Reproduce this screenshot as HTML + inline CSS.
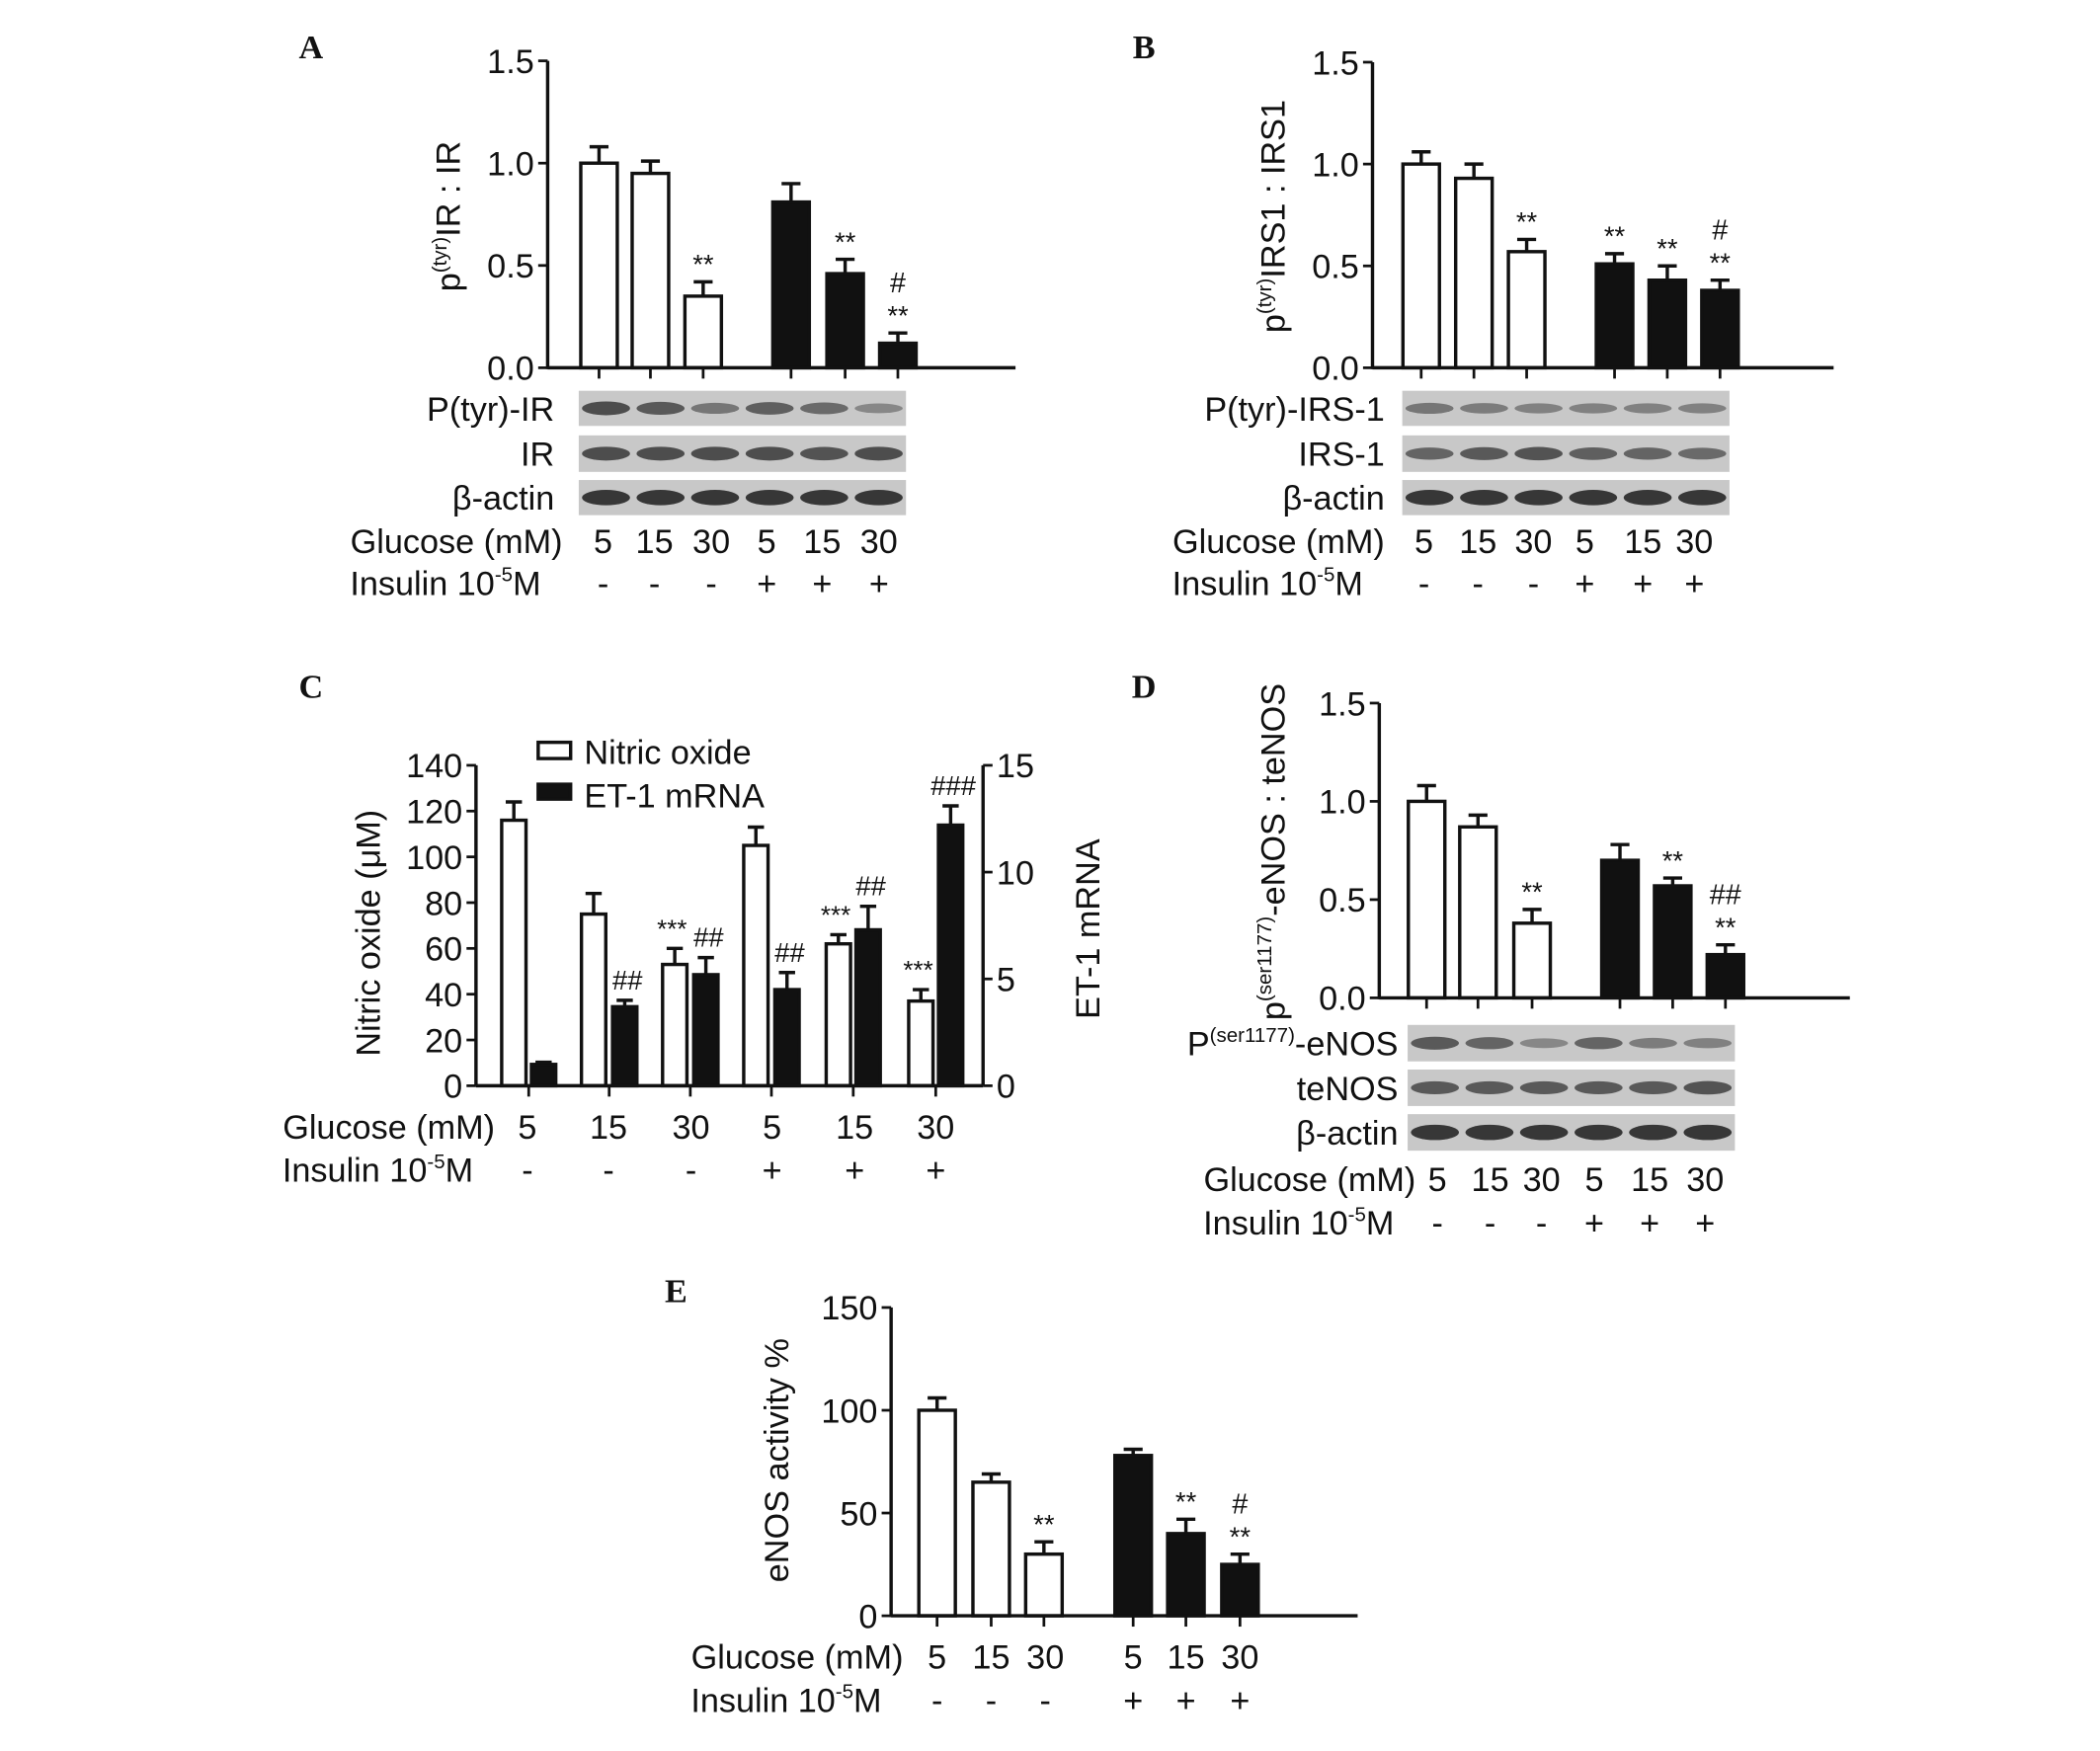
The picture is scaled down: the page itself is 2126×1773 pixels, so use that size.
<!DOCTYPE html>
<html><head><meta charset="utf-8"><style>
html,body{margin:0;padding:0;background:#fff;}
svg{display:block;}
text{font-family:"Liberation Sans",sans-serif;fill:#111;}
.pl{font-family:"Liberation Serif",serif;font-weight:bold;font-size:25px;}
</style></head><body>
<svg id="fig" width="2126" height="1773" viewBox="0 0 1553 1295" preserveAspectRatio="none" xmlns="http://www.w3.org/2000/svg"></svg>
<script>
// ---- data ----
const glucoseLabels = ["5","15","30","5","15","30"];
const insulinLabels = ["-","-","-","+","+","+"];
const aValues = [1.0,0.95,0.35,0.81,0.46,0.12];
const aErrors = [0.08,0.06,0.07,0.09,0.07,0.05];
const aAnnot = ["","","**","","**","#\n**"];
const bValues = [1.0,0.93,0.57,0.51,0.43,0.38];
const bErrors = [0.06,0.07,0.06,0.05,0.07,0.05];
const bAnnot = ["","","**","**","**","#\n**"];
const dValues = [1.0,0.87,0.38,0.70,0.57,0.22];
const dErrors = [0.08,0.06,0.07,0.08,0.04,0.05];
const dAnnot = ["","","**","","**","##\n**"];
const eValues = [100,65,30,78,40,25];
const eErrors = [6,4,6,3,7,5];
const eAnnot = ["","","**","","**","#\n**"];
const ratioTicks = [0,0.5,1.0,1.5];
const ratioTickLabels = ["0.0","0.5","1.0","1.5"];
const eTicks = [0,50,100,150];
const cNO = [116,75,53,105,62,37];
const cNOerr = [8,9,7,8,4,5];
const cNOannot = ["","","***","","***","***"];
const cET = [1.0,3.7,5.2,4.5,7.3,12.2];
const cETerr = [0.1,0.3,0.8,0.8,1.1,0.9];
const cETannot = ["","##","##","##","##","###"];
const cLeftTicks = [0,20,40,60,80,100,120,140];
const cRightTicks = [0,5,10,15];

const FS = 25;
const svg = document.getElementById('fig');
const NS = "http://www.w3.org/2000/svg";
function el(tag, attrs, parent){const e=document.createElementNS(NS,tag);for(const k in attrs)e.setAttribute(k,attrs[k]);(parent||svg).appendChild(e);return e;}
function txt(x,y,s,size,anchor,parent){const t=el('text',{x:x,y:y,'font-size':size,'text-anchor':anchor||'middle'},parent);t.textContent=s;return t;}

function panelLabel(x,y,s){const t=txt(x,y,s,25,'middle');t.setAttribute('class','pl');

}

function yScale(y0,yTop,max){return v=>y0-(y0-yTop)*v/max;}

function barChart(name,ax,x0End,y0,yTop,max,ticks,tickLabels,centers,vals,errs,annot,bw){
  const g=el('g',{});
  
  
  const ys=yScale(y0,yTop,max);
  vals.forEach((v,i)=>{
    const cx=centers[i],top=ys(v),black=i>=3;
    const r=el('rect',{x:cx-bw/2,y:top,width:bw,height:y0-top,fill:black?'#111':'#fff',stroke:'#111','stroke-width':2.5},g);
    
    
    const et=ys(v+errs[i]);
    el('line',{x1:cx,x2:cx,y1:top,y2:et,stroke:'#111','stroke-width':2.5},g);
    el('line',{x1:cx-7,x2:cx+7,y1:et,y2:et,stroke:'#111','stroke-width':2.5},g);
    el('line',{x1:cx,x2:cx,y1:y0,y2:y0+8,stroke:'#111','stroke-width':2},g);
    const lines=annot[i]?annot[i].split('\n'):[];
    lines.reverse().forEach((s,k)=>{txt(cx,et-6-k*24,s,s.startsWith('#')?21:20,'middle',g);});
  });
  el('line',{x1:ax,x2:ax,y1:yTop,y2:y0+1,stroke:'#111','stroke-width':2.5},g);
  el('line',{x1:ax,x2:x0End,y1:y0,y2:y0,stroke:'#111','stroke-width':2.5},g);
  ticks.forEach((t,i)=>{const y=ys(t);el('line',{x1:ax-7,x2:ax,y1:y,y2:y,stroke:'#111','stroke-width':2},g);
    txt(ax-10,y+9,tickLabels[i],FS,'end',g);});
  return g;
}
function ylab(x,y,parts,name){
  const t=el('text',{transform:`translate(${x},${y}) rotate(-90)`,'font-size':FS,'text-anchor':'middle'});
  
  
  parts.forEach(p=>{const s=el('tspan',p.sup?{'font-size':15,dy:-10}:{dy:p.after?10:0},t);s.textContent=p.t;});
}
function blots(name,x,w,rows,labelX,labels,intens){
  rows.forEach((r,i)=>{
    const g=el('g',{});
    
    
    el('rect',{x:x,y:r[0],width:w,height:r[1]-r[0],fill:'#c8c8c8'},g);
    const lw=w/6, mid=(r[0]+r[1])/2;
    intens[i].forEach((a,k)=>{el('ellipse',{cx:x+lw*(k+0.5),cy:mid,rx:lw*0.44,ry:3+3*a,fill:'#222','fill-opacity':0.25+0.7*a},g);});
    const lt=el('text',{x:labelX,y:mid+9,'font-size':FS,'text-anchor':'end'});
    labels[i].forEach(p=>{const s=el('tspan',p.sup?{'font-size':15,dy:-10}:{dy:p.after?10:0},lt);s.textContent=p.t;});
  });
}
function condRows(name,lx,gy,iy,xs){
  const g=el('g',{});
  
  
  txt(lx,gy,'Glucose (mM)',FS,'end',g);
  const t=el('text',{x:lx-16,y:iy,'font-size':FS,'text-anchor':'end'},g);
  let s=el('tspan',{},t);s.textContent='Insulin 10';
  s=el('tspan',{'font-size':15,dy:-10},t);s.textContent='-5';
  s=el('tspan',{dy:10},t);s.textContent='M';
  xs.forEach((x,i)=>{txt(x,gy,glucoseLabels[i],FS,'middle',g);txt(x,iy,insulinLabels[i],FS,'middle',g);});
}

// Panel A
panelLabel(230,43,'A');
barChart('panel-a',405,751,272,45,1.5,ratioTicks,ratioTickLabels,[443,481,520,585,625,664],aValues,aErrors,aAnnot,27);
ylab(340,160,[{t:'p'},{t:'(tyr)',sup:true},{t:'IR : IR',after:true}],'panel-a-y-axis-title');
blots('panel-a',428,242,[[289,315],[322,349],[355,381]],410,[[{t:'P(tyr)-IR'}],[{t:'IR'}],[{t:'β-actin'}]],[[.7,.6,.35,.55,.45,.2],[.7,.7,.7,.7,.65,.7],[.9,.9,.9,.9,.9,.9]]);
condRows('panel-a',416,409,440,[446,484,526,567,608,650]);

// Panel B
panelLabel(846,43,'B');
barChart('panel-b',1015,1356,272,46,1.5,ratioTicks,ratioTickLabels,[1051,1090,1129,1194,1233,1272],bValues,bErrors,bAnnot,27);
ylab(950,160,[{t:'p'},{t:'(tyr)',sup:true},{t:'IRS1 : IRS1',after:true}],'panel-b-y-axis-title');
blots('panel-b',1037,242,[[289,315],[322,349],[355,381]],1024,[[{t:'P(tyr)-IRS-1'}],[{t:'IRS-1'}],[{t:'β-actin'}]],[[.35,.3,.25,.25,.25,.25],[.5,.6,.65,.55,.5,.45],[.9,.9,.9,.9,.9,.9]]);
condRows('panel-b',1024,409,440,[1053,1093,1134,1172,1215,1253]);

// Panel C
panelLabel(230,516,'C');
(function(){
  const g=el('g',{});
  
  
  const y0=803,yT=566,ax=352,rx=727;
  const yl=yScale(y0,yT,140), yr=yScale(y0,yT,15);
  const wc=[380,439,499,559,620,681], bc=[402,462,522,582,642,703], bw=18;
  function bar(cx,v,e,ys,black,ann,idx,kind){
    const top=ys(v);
    const r=el('rect',{x:cx-bw/2,y:top,width:bw,height:y0-top,fill:black?'#111':'#fff',stroke:'#111','stroke-width':2.5},g);
    
    
    const et=ys(v+e);
    el('line',{x1:cx,x2:cx,y1:top,y2:et,stroke:'#111','stroke-width':2.5},g);
    el('line',{x1:cx-6,x2:cx+6,y1:et,y2:et,stroke:'#111','stroke-width':2.5},g);
    if(ann)txt(cx+(black?2:-2),et-8,ann,ann.startsWith('#')?20:19,'middle',g);
  }
  cNO.forEach((v,i)=>bar(wc[i],v,cNOerr[i],yl,false,cNOannot[i],i+1,'nitric-oxide'));
  cET.forEach((v,i)=>bar(bc[i],v,cETerr[i],yr,true,cETannot[i],i+1,'et1'));
  wc.forEach((c,i)=>{const m=(c+bc[i])/2;el('line',{x1:m,x2:m,y1:y0,y2:y0+8,stroke:'#111','stroke-width':2},g);});
  el('line',{x1:ax,x2:ax,y1:yT,y2:y0,stroke:'#111','stroke-width':2.5},g);
  el('line',{x1:rx,x2:rx,y1:yT,y2:y0,stroke:'#111','stroke-width':2.5},g);
  el('line',{x1:ax,x2:rx,y1:y0,y2:y0,stroke:'#111','stroke-width':2.5},g);
  cLeftTicks.forEach(t=>{const y=yl(t);el('line',{x1:ax-7,x2:ax,y1:y,y2:y,stroke:'#111','stroke-width':2},g);txt(ax-10,y+9,String(t),FS,'end',g);});
  cRightTicks.forEach(t=>{const y=yr(t);el('line',{x1:rx,x2:rx+7,y1:y,y2:y,stroke:'#111','stroke-width':2},g);txt(rx+10,y+9,String(t),FS,'start',g);});
  const l1=el('rect',{x:398,y:549,width:24,height:12,fill:'#fff',stroke:'#111','stroke-width':2.5},g);
  
  txt(432,565,'Nitric oxide',FS,'start',g);
  const l2=el('rect',{x:398,y:580,width:24,height:11,fill:'#111',stroke:'#111','stroke-width':2.5},g);
  
  txt(432,597,'ET-1 mRNA',FS,'start',g);
})();
ylab(281,690,[{t:'Nitric oxide (μM)'}],'panel-c-left-y-axis-title');
ylab(813,687,[{t:'ET-1 mRNA'}],'panel-c-right-y-axis-title');
condRows('panel-c',366,842,874,[390,450,511,571,632,692]);

// Panel D
panelLabel(846,516,'D');
barChart('panel-d',1020,1368,738,520,1.5,ratioTicks,ratioTickLabels,[1055,1093,1133,1198,1237,1276],dValues,dErrors,dAnnot,27);
ylab(950,630,[{t:'p'},{t:'(ser1177)',sup:true},{t:'-eNOS : teNOS',after:true}],'panel-d-y-axis-title');
blots('panel-d',1041,242,[[758,785],[791,818],[824,851]],1034,[[{t:'P'},{t:'(ser1177)',sup:true},{t:'-eNOS',after:true}],[{t:'teNOS'}],[{t:'β-actin'}]],[[.6,.5,.2,.5,.3,.25],[.6,.6,.6,.6,.6,.65],[.9,.9,.9,.9,.9,.9]]);
condRows('panel-d',1047,881,913,[1063,1102,1140,1179,1220,1261]);

// Panel E
panelLabel(500,963,'E');
barChart('panel-e',659,1004,1195,967,150,eTicks,eTicks.map(String),[693,733,772,838,877,917],eValues,eErrors,eAnnot,27);
ylab(583,1080,[{t:'eNOS activity %'}],'panel-e-y-axis-title');
condRows('panel-e',668,1234,1266,[693,733,773,838,877,917]);
</script>
</body></html>
